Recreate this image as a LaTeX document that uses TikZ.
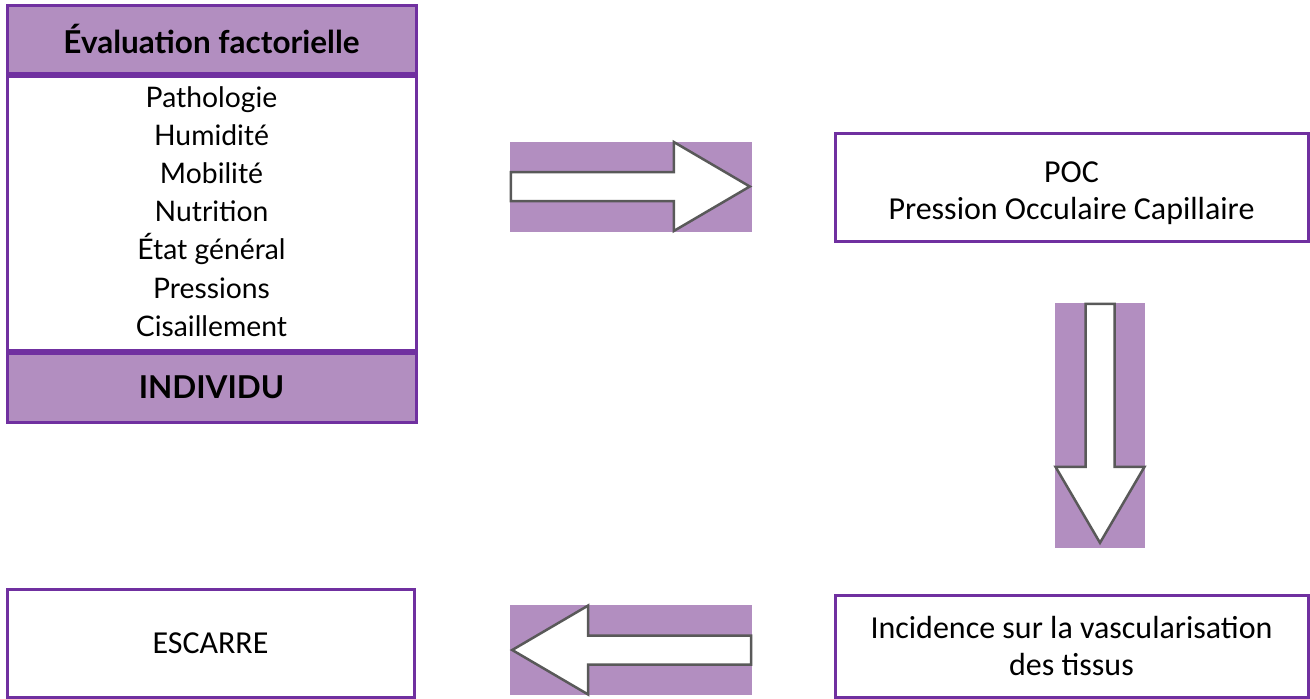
\documentclass[tikz,border=0pt]{standalone}
\usepackage{fontspec}
\setmainfont{Carlito}
\newfontfamily\gillfont{Lato}
\usetikzlibrary{positioning}
\definecolor{band}{RGB}{178,142,192}
\definecolor{frame}{RGB}{112,48,160}
\definecolor{outline}{RGB}{89,89,89}
\tikzset{
  textbox/.style={draw=frame,line width=3pt,fill=white,align=center,
    minimum width=473pt,minimum height=108pt,inner sep=0pt,
    font=\fontsize{32}{37}\selectfont},
  boxtext/.style={align=center,inner sep=0pt,font=\fontsize{32}{37}\selectfont},
  bandbox/.style={draw=frame,line width=3pt,fill=band,minimum width=409pt,
    inner sep=0pt,font=\gillfont\bfseries\fontsize{31.5}{36}\selectfont},
  factor/.style={anchor=base,inner sep=0pt,font=\gillfont\fontsize{28.3}{32}\selectfont},
  pad/.style={fill=band,inner sep=0pt,minimum width=242pt,minimum height=90pt},
  block arrow/.pic={
    \draw[outline,fill=white,line width=2.5pt]
      (1,-14.5) -- (164,-14.5) -- (164,-44.5) -- (240,0)
      -- (164,44.5) -- (164,14.5) -- (1,14.5) -- cycle;
  }
}

\begin{document}
\begin{tikzpicture}[x=1pt,y=-1pt]
\useasboundingbox (0,0) rectangle (1310,699);
\node[bandbox,minimum height=68pt] (head) at (211.5,39) {Évaluation factorielle};
\node[draw=frame,line width=3pt,minimum width=409pt,minimum height=274pt,inner sep=0pt,below=0pt of head] (body) {};
\node[bandbox,minimum height=69pt,below=0pt of body] (foot) {INDIVIDU};
\foreach \f [count=\i] in {Pathologie,Humidité,Mobilité,Nutrition,État général,Pressions,Cisaillement}
  \node[factor] (f\i) at (211.5,{107+38.2*(\i-1)}) {\f};

\node[textbox] (poc) at (1071.5,187) {};
\node[boxtext] (poctext) at ([yshift=-6pt]poc.center) {POC\\Pression Occulaire Capillaire};
\node[textbox,minimum height=102pt] (tissus) at (1071.5,646) {Incidence sur la vascularisation\\des tissus};
\node[textbox,minimum width=407pt] (escarre) at (210.5,643) {ESCARRE};

\node[pad] (padA) at (631,186.5) {};
\node[pad,minimum width=90pt,minimum height=245pt] (padB) at (1100,425.5) {};
\node[pad] (padC) at (631,650) {};
\pic at (padA.west) {block arrow};
\pic[rotate=-90] at (padB.north) {block arrow};
\pic[rotate=180] at (padC.east) {block arrow};
\end{tikzpicture}
\end{document}
